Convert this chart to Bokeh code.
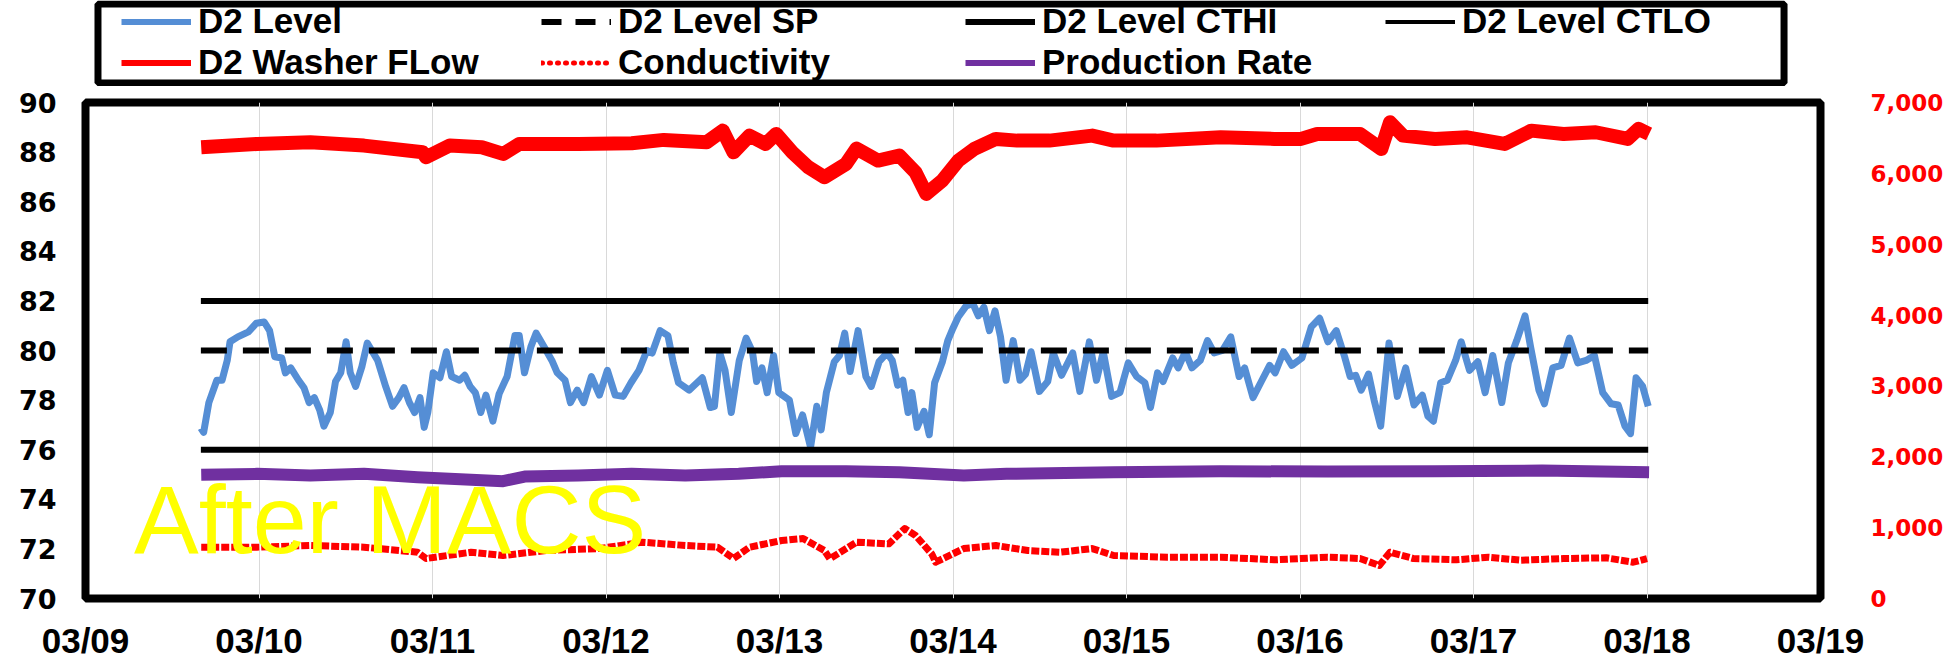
import pandas as pd
from bokeh.plotting import figure
from bokeh.layouts import column
from bokeh.models import (Range1d, LinearAxis, FixedTicker, DatetimeTickFormatter,
                          NumeralTickFormatter, Legend, LegendItem, Label, BoxAnnotation)
from bokeh.embed import file_html
from bokeh.resources import INLINE

# ---------------- data (days since 03/09 00:00) ----------------
BASE = pd.Timestamp("2018-03-09")

level_days = [0.665, 0.681, 0.711, 0.757, 0.787, 0.817, 0.833, 0.878, 0.939, 0.985,
              1.030, 1.061, 1.091, 1.131, 1.152, 1.183, 1.228, 1.259, 1.289, 1.319,
              1.350, 1.374, 1.411, 1.441, 1.471, 1.502, 1.526, 1.557, 1.593, 1.624,
              1.654, 1.684, 1.730, 1.770, 1.806, 1.836, 1.867, 1.897, 1.928, 1.952,
              1.973, 2.004, 2.043, 2.080, 2.110, 2.156, 2.186, 2.217, 2.247, 2.278,
              2.308, 2.348, 2.384, 2.430, 2.475, 2.500, 2.530, 2.567, 2.597, 2.643,
              2.688, 2.719, 2.764, 2.795, 2.834, 2.871, 2.916, 2.962, 3.008, 3.053,
              3.099, 3.144, 3.190, 3.236, 3.266, 3.312, 3.357, 3.388, 3.418, 3.479,
              3.555, 3.601, 3.625, 3.656, 3.686, 3.722, 3.768, 3.808, 3.844, 3.868,
              3.899, 3.929, 3.966, 3.996, 4.057, 4.094, 4.133, 4.179, 4.215, 4.240,
              4.270, 4.316, 4.346, 4.376, 4.407, 4.453, 4.498, 4.529, 4.574, 4.620,
              4.650, 4.681, 4.711, 4.741, 4.763, 4.793, 4.833, 4.863, 4.894, 4.939,
              4.970, 5.000, 5.030, 5.076, 5.114, 5.146, 5.178, 5.210, 5.242, 5.274,
              5.306, 5.347, 5.386, 5.418, 5.450, 5.498, 5.546, 5.578, 5.626, 5.690,
              5.731, 5.786, 5.827, 5.866, 5.914, 5.962, 6.010, 6.058, 6.106, 6.138,
              6.179, 6.211, 6.266, 6.298, 6.339, 6.377, 6.425, 6.467, 6.505, 6.553,
              6.601, 6.649, 6.681, 6.729, 6.777, 6.825, 6.857, 6.905, 6.953, 7.011,
              7.065, 7.113, 7.161, 7.209, 7.257, 7.289, 7.321, 7.353, 7.395, 7.427,
              7.465, 7.513, 7.561, 7.609, 7.657, 7.705, 7.737, 7.769, 7.811, 7.849,
              7.897, 7.929, 7.977, 8.025, 8.067, 8.111, 8.163, 8.201, 8.249, 8.297,
              8.329, 8.377, 8.409, 8.457, 8.505, 8.553, 8.601, 8.649, 8.697, 8.745,
              8.793, 8.834, 8.873, 8.905, 8.937, 8.975, 9.007]
level_vals = [76.87, 76.7, 77.9, 78.8, 78.8, 79.6, 80.35, 80.55, 80.75, 81.1,
              81.15, 80.8, 79.75, 79.7, 79.1, 79.3, 78.8, 78.5, 77.9, 78.1,
              77.6, 76.95, 77.5, 78.75, 79.1, 80.35, 79.1, 78.55, 79.35, 80.3,
              79.95, 79.6, 78.55, 77.75, 78.1, 78.5, 77.9, 77.5, 78.1, 76.9,
              77.5, 79.1, 78.9, 79.95, 78.95, 78.8, 79.0, 78.55, 78.3, 77.5,
              78.2, 77.15, 78.25, 78.95, 80.6, 80.6, 79.1, 80.15, 80.7, 80.15,
              79.6, 79.1, 78.8, 77.9, 78.4, 77.9, 78.95, 78.2, 79.2, 78.2,
              78.15, 78.7, 79.2, 80.0, 79.9, 80.8, 80.6, 79.5, 78.7, 78.4,
              78.9, 77.7, 77.75, 79.9, 79.2, 77.5, 79.6, 80.5, 79.95, 78.75,
              79.3, 78.3, 79.8, 78.3, 78.0, 76.65, 77.4, 76.1, 77.75, 76.8,
              78.3, 79.55, 79.8, 80.7, 79.15, 80.8, 78.95, 78.55, 79.55, 79.9,
              79.6, 78.6, 78.8, 77.5, 78.3, 76.9, 77.55, 76.6, 78.7, 79.55,
              80.4, 80.9, 81.35, 81.8, 81.9, 81.4, 81.75, 80.8, 81.6, 80.55,
              78.8, 80.4, 78.8, 79.05, 79.95, 78.35, 78.75, 79.9, 79.0, 79.9,
              78.35, 80.35, 78.8, 79.95, 78.15, 78.3, 79.5, 78.95, 78.7, 77.7,
              79.1, 78.75, 79.7, 79.3, 79.95, 79.3, 79.6, 80.4, 79.9, 80.0,
              80.55, 78.95, 79.3, 78.1, 78.75, 79.4, 79.1, 79.95, 79.4, 79.7,
              80.95, 81.3, 80.35, 80.8, 79.75, 78.95, 79.0, 78.4, 79.05, 78.0,
              76.95, 80.3, 78.15, 79.3, 77.8, 78.2, 77.35, 77.15, 78.7, 78.8,
              79.6, 80.35, 79.2, 79.55, 78.3, 79.8, 77.9, 79.5, 80.4, 81.4,
              80.15, 78.4, 77.85, 79.3, 79.4, 80.5, 79.5, 79.6, 79.8, 78.3,
              77.85, 77.8, 76.95, 76.65, 78.9, 78.55, 77.75]

level_sp = 80
level_cthi = 82
level_ctlo = 76

flow_days = [0.667, 0.988, 1.296, 1.605, 1.944, 1.963, 2.099, 2.284, 2.407, 2.500,
             2.840, 3.148, 3.333, 3.580, 3.673, 3.735, 3.827, 3.920, 3.981, 4.074,
             4.167, 4.259, 4.383, 4.444, 4.568, 4.691, 4.784, 4.846, 4.938, 5.031,
             5.123, 5.247, 5.370, 5.556, 5.802, 5.926, 6.173, 6.543, 6.852, 7.006,
             7.099, 7.346, 7.469, 7.519, 7.593, 7.778, 7.963, 8.179, 8.333, 8.519,
             8.704, 8.889, 8.951, 9.012]
flow_vals = [6368, 6415, 6439, 6392, 6297, 6227, 6392, 6368, 6274, 6415,
             6415, 6424, 6472, 6439, 6603, 6297, 6533, 6415, 6556, 6297,
             6086, 5945, 6133, 6350, 6180, 6250, 6015, 5710, 5898, 6180,
             6345, 6486, 6462, 6462, 6533, 6462, 6462, 6509, 6486, 6486,
             6556, 6556, 6345, 6721, 6533, 6486, 6509, 6415, 6603, 6556,
             6580, 6486, 6627, 6556]

cond_days = [0.667, 0.988, 1.296, 1.605, 1.914, 1.963, 2.222, 2.407, 2.654, 2.963,
             3.210, 3.457, 3.642, 3.735, 3.827, 4.012, 4.136, 4.259, 4.290, 4.444,
             4.630, 4.722, 4.784, 4.877, 4.900, 5.062, 5.247, 5.432, 5.617, 5.802,
             5.926, 6.235, 6.543, 6.852, 7.160, 7.346, 7.457, 7.519, 7.654, 7.901,
             8.086, 8.272, 8.519, 8.765, 8.920, 9.000]
cond_vals = [724, 724, 748, 724, 653, 564, 653, 607, 677, 705,
             795, 748, 724, 564, 724, 818, 846, 677, 560, 795,
             771, 988, 889, 630, 512, 705, 748, 677, 653, 705,
             607, 583, 583, 546, 583, 564, 466, 653, 564, 546,
             583, 540, 564, 574, 512, 564]

prod_days = [0.667, 0.988, 1.296, 1.605, 1.914, 2.222, 2.407, 2.531, 2.840, 3.148,
             3.457, 3.765, 4.012, 4.383, 4.691, 5.062, 5.309, 5.926, 6.543, 7.160,
             7.778, 8.395, 9.012]
prod_vals = [1745, 1759, 1735, 1759, 1712, 1675, 1655, 1721, 1735, 1759,
             1735, 1759, 1796, 1796, 1782, 1735, 1759, 1782, 1796, 1792,
             1796, 1806, 1782]

x_tick_days = list(range(0, 11))
left_ticks = list(range(70, 91, 2))
right_ticks = list(range(0, 7001, 1000))

annotation_text = "After MACS"

# ---------------- helpers ----------------
EPOCH = pd.Timestamp("1970-01-01")
NAN = float("nan")


def to_ms(days):
    return [((BASE + pd.Timedelta(days=d)) - EPOCH) / pd.Timedelta(milliseconds=1) for d in days]


BLUE = "#558ED5"
RED = "#FF0000"
PURPLE = "#7030A0"
W = 1946
TOP_H = 86
MAIN_H = 664 - TOP_H
B_LEFT, B_RIGHT = 85, 124
FRAME_W = W - B_LEFT - B_RIGHT

x_lo, x_hi = to_ms([x_tick_days[0], x_tick_days[-1]])

# ---------------- main chart ----------------
p = figure(width=W, height=MAIN_H, output_backend="svg", toolbar_location=None,
           title=None, x_axis_type="datetime",
           x_range=Range1d(x_lo, x_hi), y_range=Range1d(left_ticks[0], left_ticks[-1]),
           min_border_left=B_LEFT, min_border_right=B_RIGHT,
           min_border_top=102 - TOP_H, min_border_bottom=66)
p.extra_y_ranges = {"flow": Range1d(right_ticks[0], right_ticks[-1])}

p.background_fill_color = "white"
p.border_fill_color = "white"
p.outline_line_color = "black"
p.outline_line_width = 8

xt = FixedTicker(ticks=to_ms(x_tick_days))
xa = p.xaxis[0]
xa.ticker = xt
fmt = "%m/%d"
xa.formatter = DatetimeTickFormatter(days=fmt, months=fmt, years=fmt, hours=fmt,
                                     hourmin=fmt, minutes=fmt, minsec=fmt,
                                     seconds=fmt, milliseconds=fmt, microseconds=fmt)
xa.major_label_text_font = "Liberation Sans"
xa.major_label_text_font_style = "bold"
xa.major_label_text_font_size = "35px"
xa.major_label_text_color = "black"
xa.major_label_standoff = 22

ya = p.yaxis[0]
ya.ticker = FixedTicker(ticks=left_ticks)
ya.major_label_text_font = "DejaVu Sans"
ya.major_label_text_font_style = "bold"
ya.major_label_text_font_size = "27px"
ya.major_label_text_color = "black"
ya.major_label_standoff = 29

ra = LinearAxis(y_range_name="flow", ticker=FixedTicker(ticks=right_ticks),
                formatter=NumeralTickFormatter(format="0,0"))
ra.major_label_text_font = "DejaVu Sans"
ra.major_label_text_font_style = "bold"
ra.major_label_text_font_size = "23px"
ra.major_label_text_color = RED
ra.major_label_standoff = 50
p.add_layout(ra, "right")

for ax in (xa, ya, ra):
    ax.axis_line_color = None
    ax.major_tick_line_color = None
    ax.minor_tick_line_color = None
    ax.major_tick_in = 0
    ax.major_tick_out = 0
    ax.minor_tick_in = 0
    ax.minor_tick_out = 0

p.xgrid.ticker = xt
p.xgrid.grid_line_color = "#D9D9D9"
p.xgrid.grid_line_width = 1
p.ygrid.visible = False

lvl_x = to_ms(level_days)
span_x = [lvl_x[0], lvl_x[-1]]

p.line(x=lvl_x, y=level_vals, line_color=BLUE, line_width=7, line_join="round")
p.line(x=span_x, y=[level_sp, level_sp], line_color="black", line_width=6, line_dash="26 16")
p.line(x=span_x, y=[level_cthi, level_cthi], line_color="black", line_width=6)
p.line(x=span_x, y=[level_ctlo, level_ctlo], line_color="black", line_width=6)
p.line(x=to_ms(flow_days), y=flow_vals, y_range_name="flow", line_color=RED,
       line_width=14, line_join="round")
p.line(x=to_ms(cond_days), y=cond_vals, y_range_name="flow", line_color=RED,
       line_width=7, line_dash="8 2", line_join="round")
p.line(x=to_ms(prod_days), y=prod_vals, y_range_name="flow", line_color=PURPLE,
       line_width=12, line_join="round")

p.add_layout(Label(x=to_ms([0.28])[0], y=73.17, text=annotation_text,
                   text_font="Liberation Sans", text_font_size="97px",
                   text_color="#FFFF00", text_baseline="middle", text_align="left"))

# ---------------- legend strip (its own small figure, frame aligned with the chart) ----------------
# ranges map 1:1 to pixels (y measured downward from the strip's top)
top = figure(width=W, height=TOP_H, output_backend="svg", toolbar_location=None,
             title=None, x_axis_location=None, y_axis_location=None,
             x_range=Range1d(0, FRAME_W), y_range=Range1d(TOP_H, 0),
             min_border_left=B_LEFT, min_border_right=B_RIGHT,
             min_border_top=0, min_border_bottom=0)
top.outline_line_color = None
top.grid.visible = False
top.background_fill_color = "white"
top.border_fill_color = "white"

top.add_layout(BoxAnnotation(left=12.5, right=1700.5, top=3.5, bottom=82.5,
                             fill_color=None, fill_alpha=0,
                             line_color="black", line_width=7, line_alpha=1))


def dummy(**kw):
    return top.line(x=[NAN], y=[NAN], **kw)


leg_r = {
    "D2 Level": dummy(line_color=BLUE, line_width=6),
    "D2 Level SP": dummy(line_color="black", line_width=6, line_dash="20 14"),
    "D2 Level CTHI": dummy(line_color="black", line_width=6),
    "D2 Level CTLO": dummy(line_color="black", line_width=4),
    "D2 Washer FLow": dummy(line_color=RED, line_width=6),
    "Conductivity": dummy(line_color=RED, line_width=5, line_dash="1 7", line_cap="round"),
    "Production Rate": dummy(line_color=PURPLE, line_width=6),
}
columns = [["D2 Level", "D2 Washer FLow"], ["D2 Level SP", "Conductivity"],
           ["D2 Level CTHI", "Production Rate"], ["D2 Level CTLO"]]
col_x = [36, 456, 880, 1300]
LEG_TOP = 0.5
ROW_H = 41
for names, cx in zip(columns, col_x):
    h = ROW_H * len(names)
    top.add_layout(Legend(items=[LegendItem(label=n, renderers=[leg_r[n]]) for n in names],
                          location=(cx, TOP_H - LEG_TOP - h), padding=0, spacing=0, margin=0,
                          glyph_width=70, glyph_height=ROW_H, label_height=ROW_H, label_standoff=7,
                          label_text_font="Liberation Sans", label_text_font_style="bold",
                          label_text_font_size="35px", label_text_color="black",
                          border_line_color=None, background_fill_alpha=0))

layout = column(top, p, spacing=0)
open("out.html", "w").write(file_html(layout, INLINE))
